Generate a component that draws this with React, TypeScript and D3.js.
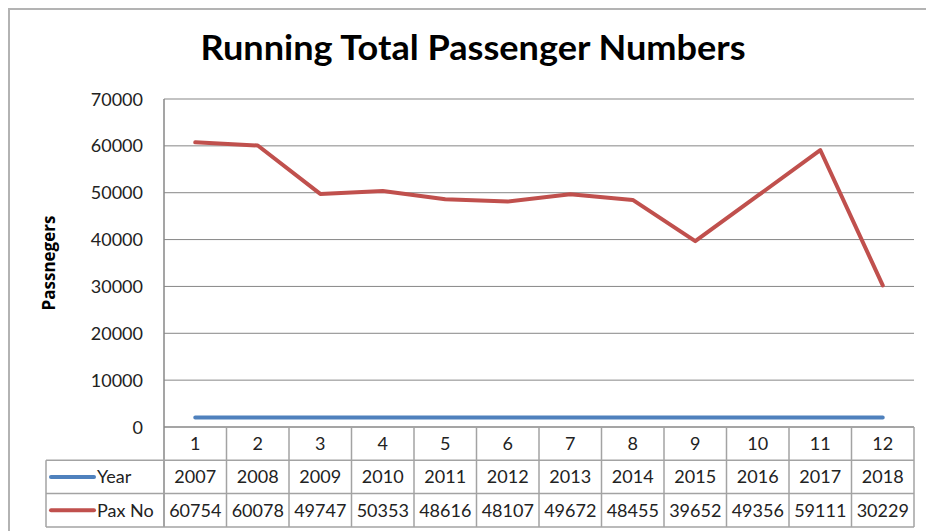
import React from "react";
import * as d3 from "d3";

const categories = ["1", "2", "3", "4", "5", "6", "7", "8", "9", "10", "11", "12"];
const years = [2007, 2008, 2009, 2010, 2011, 2012, 2013, 2014, 2015, 2016, 2017, 2018];
const paxNo = [60754, 60078, 49747, 50353, 48616, 48107, 49672, 48455, 39652, 49356, 59111, 30229];
const yTicks = [0, 10000, 20000, 30000, 40000, 50000, 60000, 70000];

const W = 926;
const H = 531;
const FONT = "Lato, 'Open Sans', sans-serif";
const WIDE = "'Open Sans', Lato, sans-serif";

const left = 164;
const right = 914;
const top = 99;
const bottom = 427;
const rowH = 33.3;
const tableLeft = 46;

const App = () => {
  const x = d3.scaleBand().domain(categories).range([left, right]);
  const y = d3.scaleLinear().domain([0, 70000]).range([bottom, top]);
  const cx = (c: string) => (x(c) as number) + x.bandwidth() / 2;

  const line = d3
    .line<number>()
    .x((_, i) => cx(categories[i]))
    .y((d) => y(d));

  const series = [
    { name: "Year", values: years, color: "#4F81BD" },
    { name: "Pax No", values: paxNo, color: "#C0504D" },
  ];

  const gridColor = "#878787";
  const tableColor = "#a3a3a3";
  const fs = 18;

  return (
    <svg
      width={W}
      height={H}
      style={{ position: "fixed", left: 0, top: 0, background: "#fff" }}
      fontFamily={FONT}
    >
      <rect x={9} y={9} width={940} height={540} fill="#fff" stroke="#b3b3b3" strokeWidth={2} />

      <text
        x={473}
        y={60}
        textAnchor="middle"
        fontSize={34}
        fontWeight="bold"
        fill="#000"
        textLength={545}
        lengthAdjust="spacingAndGlyphs"
      >
        Running Total Passenger Numbers
      </text>

      {/* grid lines and y labels */}
      {yTicks.map((t) => (
        <g key={t}>
          {t > 0 && (
            <line x1={left} x2={right} y1={y(t)} y2={y(t)} stroke={gridColor} strokeWidth={1} />
          )}
          <text x={143} y={y(t) + 6.5} textAnchor="end" fontSize={fs} fill="#222">
            {t}
          </text>
        </g>
      ))}

      <text
        transform={`translate(55,${(top + bottom) / 2}) rotate(-90)`}
        textAnchor="middle"
        fontSize={17}
        fontWeight="bold"
        fontFamily={WIDE}
        fill="#000"
      >
        Passnegers
      </text>

      {/* lines */}
      {series.map((s) => (
        <path
          key={s.name}
          d={line(s.values) || ""}
          fill="none"
          stroke={s.color}
          strokeWidth={4}
          strokeLinecap="round"
          strokeLinejoin="round"
        />
      ))}

      {/* data table */}
      <g stroke={tableColor} strokeWidth={1.5}>
        <line x1={left} x2={left} y1={top} y2={bottom + rowH * 3} stroke={gridColor} />
        <line x1={left} x2={right} y1={bottom} y2={bottom} stroke={gridColor} />
        {categories.map((c) => (
          <line
            key={c}
            x1={(x(c) as number) + x.bandwidth()}
            x2={(x(c) as number) + x.bandwidth()}
            y1={bottom}
            y2={bottom + rowH * 3}
          />
        ))}
        <line x1={tableLeft} x2={tableLeft} y1={bottom + rowH} y2={bottom + rowH * 3} />
        {[1, 2, 3].map((r) => (
          <line key={r} x1={tableLeft} x2={right} y1={bottom + rowH * r} y2={bottom + rowH * r} />
        ))}
      </g>

      {categories.map((c) => (
        <text key={c} x={cx(c)} y={bottom + rowH / 2 + 6.5} textAnchor="middle" fontSize={fs} fill="#222">
          {c}
        </text>
      ))}

      {series.map((s, r) => {
        const ry = bottom + rowH * (r + 1) + rowH / 2;
        return (
          <g key={s.name}>
            <line x1={51} x2={94} y1={ry} y2={ry} stroke={s.color} strokeWidth={4} strokeLinecap="round" />
            <text x={97} y={ry + 6.5} fontSize={fs} fill="#222">
              {s.name}
            </text>
            {s.values.map((v, i) => (
              <text key={i} x={cx(categories[i])} y={ry + 6.5} textAnchor="middle" fontSize={fs} fill="#222">
                {v}
              </text>
            ))}
          </g>
        );
      })}
    </svg>
  );
};

export default App;
